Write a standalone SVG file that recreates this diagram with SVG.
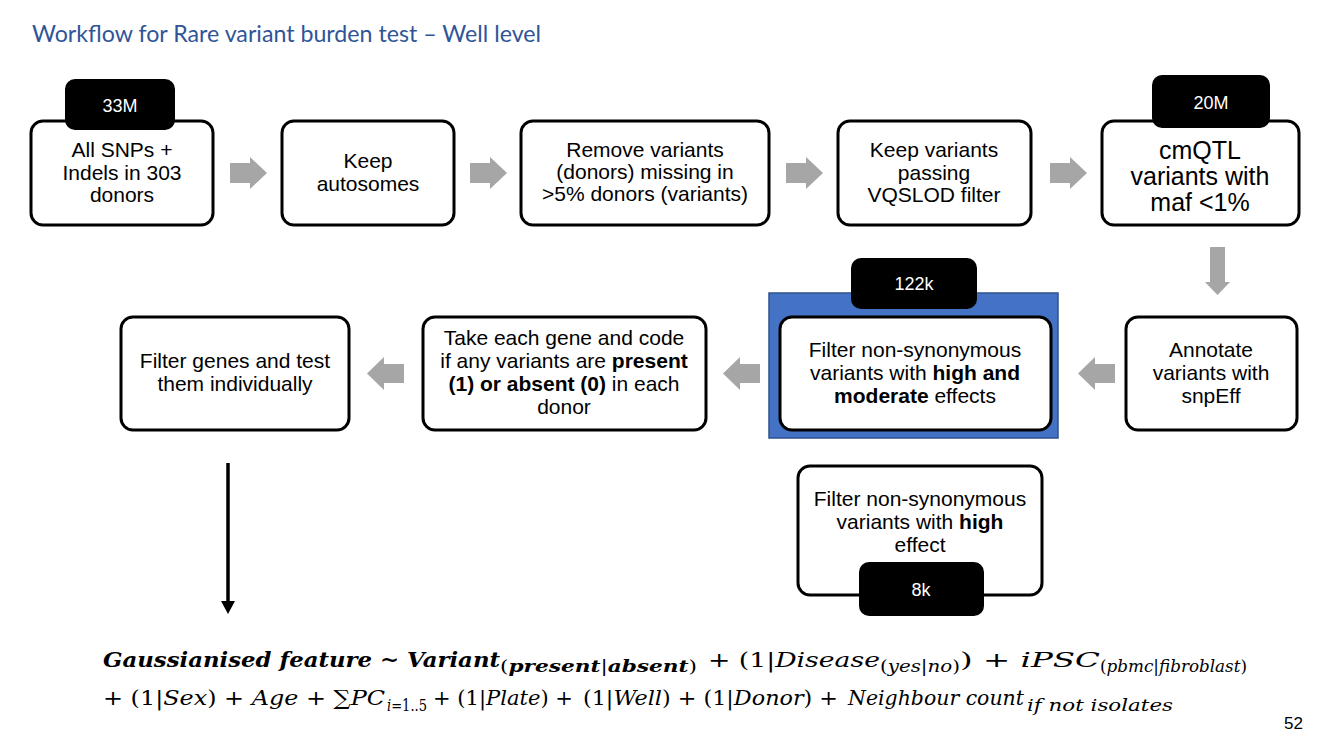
<svg xmlns="http://www.w3.org/2000/svg" width="1333" height="750" viewBox="0 0 1333 750">
  <defs>
    <style>
      .title { font-family: Lato, "Open Sans", "Liberation Sans", sans-serif; font-size: 23px; fill: #2F5597; }
      .box { fill: #FFFFFF; stroke: #000000; stroke-width: 3; }
      .tab { fill: #000000; }
      .tabtxt { font-family: "Liberation Sans", Arial, sans-serif; font-size: 18px; fill: #FFFFFF; text-anchor: middle; }
      .lbl { font-family: "Liberation Sans", Arial, sans-serif; font-size: 21px; fill: #000000; text-anchor: middle; }
      .big { font-size: 25px; }
      .b { font-weight: bold; }
      .garrow { fill: #A6A6A6; }
      .math { font-family: "DejaVu Serif", "Liberation Serif", serif; font-size: 21px; fill: #000000; font-style: italic; }
      .mb { font-weight: bold; }
      .sub { font-size: 16px; }
      .up { font-style: normal; }
      .page { font-family: "Liberation Sans", Arial, sans-serif; font-size: 17px; fill: #000000; }
    </style>
  </defs>

  <rect width="1333" height="750" fill="#FFFFFF"/>

  <text class="title" x="32" y="42" textLength="509" lengthAdjust="spacingAndGlyphs">Workflow for Rare variant burden test – Well level</text>

  <!-- Row 1 -->
  <g id="node-all-snps">
    <rect class="box" x="31" y="121" width="182" height="104" rx="12"/>
    <rect class="tab" x="65" y="79" width="110" height="51" rx="10"/>
    <text class="tabtxt" x="120" y="112">33M</text>
    <text class="lbl" x="122" y="157">All SNPs +</text>
    <text class="lbl" x="122" y="180">Indels in 303</text>
    <text class="lbl" x="122" y="202">donors</text>
  </g>

  <g id="node-autosomes">
    <rect class="box" x="282" y="121" width="172" height="104" rx="12"/>
    <text class="lbl" x="368" y="168">Keep</text>
    <text class="lbl" x="368" y="191">autosomes</text>
  </g>

  <g id="node-missing">
    <rect class="box" x="521" y="121" width="248" height="104" rx="12"/>
    <text class="lbl" x="645" y="157">Remove variants</text>
    <text class="lbl" x="645" y="179">(donors) missing in</text>
    <text class="lbl" x="645" y="201">&gt;5% donors (variants)</text>
  </g>

  <g id="node-vqslod">
    <rect class="box" x="838" y="121" width="193" height="104" rx="12"/>
    <text class="lbl" x="934" y="157">Keep variants</text>
    <text class="lbl" x="934" y="180">passing</text>
    <text class="lbl" x="934" y="202">VQSLOD filter</text>
  </g>

  <g id="node-maf">
    <rect class="box" x="1102" y="121" width="197" height="104" rx="12"/>
    <rect class="tab" x="1152" y="75" width="118" height="53" rx="10"/>
    <text class="tabtxt" x="1211" y="109">20M</text>
    <text class="lbl big" x="1200" y="159">cmQTL</text>
    <text class="lbl big" x="1200" y="185">variants with</text>
    <text class="lbl big" x="1200" y="211">maf &lt;1%</text>
  </g>

  <!-- Row 2 -->
  <g id="node-annotate">
    <rect class="box" x="1126" y="317" width="171" height="113" rx="12"/>
    <text class="lbl" x="1211" y="357">Annotate</text>
    <text class="lbl" x="1211" y="380">variants with</text>
    <text class="lbl" x="1211" y="403">snpEff</text>
  </g>

  <g id="node-high-moderate">
    <rect x="769" y="293" width="289" height="145" fill="#4472C4" stroke="#2F528F" stroke-width="1.5"/>
    <rect class="tab" x="851" y="258" width="126" height="51" rx="10"/>
    <text class="tabtxt" x="914" y="290">122k</text>
    <rect class="box" x="780" y="317" width="271" height="113" rx="12"/>
    <text class="lbl" x="915" y="357">Filter non-synonymous</text>
    <text class="lbl" x="915" y="380">variants with <tspan class="b">high and</tspan></text>
    <text class="lbl" x="915" y="403"><tspan class="b">moderate</tspan> effects</text>
  </g>

  <g id="node-code-genes">
    <rect class="box" x="423" y="317" width="283" height="113" rx="12"/>
    <text class="lbl" x="564" y="345">Take each gene and code</text>
    <text class="lbl" x="564" y="368">if any variants are <tspan class="b">present</tspan></text>
    <text class="lbl" x="564" y="391"><tspan class="b">(1) or absent (0)</tspan> in each</text>
    <text class="lbl" x="564" y="414">donor</text>
  </g>

  <g id="node-test-genes">
    <rect class="box" x="121" y="317" width="228" height="113" rx="12"/>
    <text class="lbl" x="235" y="368">Filter genes and test</text>
    <text class="lbl" x="235" y="391">them individually</text>
  </g>

  <g id="node-high">
    <rect class="box" x="798" y="466" width="244" height="129" rx="12"/>
    <text class="lbl" x="920" y="506">Filter non-synonymous</text>
    <text class="lbl" x="920" y="529">variants with <tspan class="b">high</tspan></text>
    <text class="lbl" x="920" y="552">effect</text>
    <rect class="tab" x="859" y="562" width="125" height="54" rx="10"/>
    <text class="tabtxt" x="921" y="596">8k</text>
  </g>

  <!-- Connectors -->
  <g id="connectors">
    <path class="garrow" d="M230,163 H250 V157 L267,173 L250,189 V183 H230 Z"/>
    <path class="garrow" d="M470,163 H490 V157 L507,173 L490,189 V183 H470 Z"/>
    <path class="garrow" d="M786,163 H806 V157 L823,173 L806,189 V183 H786 Z"/>
    <path class="garrow" d="M1050,163 H1070 V157 L1087,173 L1070,189 V183 H1050 Z"/>
    <path class="garrow" d="M1210,247 H1225 V282 H1230 L1217.5,295 L1205,282 H1210 Z"/>
    <path class="garrow" d="M1115,364 H1095 V357 L1078,373.5 L1095,390 V383 H1115 Z"/>
    <path class="garrow" d="M760,364 H740 V357 L723,373.5 L740,390 V383 H760 Z"/>
    <path class="garrow" d="M404,364 H384 V357 L367,373.5 L384,390 V383 H404 Z"/>
    <line x1="228" y1="463" x2="228" y2="603" stroke="#000000" stroke-width="3.5"/>
    <path d="M221,601 L235,601 L228,614 Z" fill="#000000"/>
  </g>

  <!-- Model formula -->
  <g id="formula">
    <text class="math mb" x="103" y="667" textLength="397" lengthAdjust="spacingAndGlyphs">Gaussianised feature ~ Variant</text>
    <text class="math sub" x="500" y="672" textLength="197" lengthAdjust="spacingAndGlyphs"><tspan class="up">(</tspan><tspan class="mb">present</tspan><tspan class="up">|</tspan><tspan class="mb">absent</tspan><tspan class="up">)</tspan></text>
    <text class="math" x="708" y="667" textLength="172" lengthAdjust="spacingAndGlyphs"><tspan class="up">+ (1|</tspan>Disease</text>
    <text class="math sub" x="880" y="672" textLength="80" lengthAdjust="spacingAndGlyphs"><tspan class="up">(</tspan>yes<tspan class="up">|</tspan>no<tspan class="up">)</tspan></text>
    <text class="math" x="960" y="667" textLength="140" lengthAdjust="spacingAndGlyphs"><tspan class="up">) + </tspan>iPSC</text>
    <text class="math sub" x="1100" y="672" textLength="147" lengthAdjust="spacingAndGlyphs"><tspan class="up">(</tspan>pbmc<tspan class="up">|</tspan>fibroblast<tspan class="up">)</tspan></text>

    <text class="math" x="103" y="705" textLength="282" lengthAdjust="spacingAndGlyphs"><tspan class="up">+ (1|</tspan>Sex<tspan class="up">) + </tspan>Age<tspan class="up"> + ∑</tspan>PC</text>
    <text class="math sub" x="387" y="711" textLength="40" lengthAdjust="spacingAndGlyphs">i<tspan class="up">=1..5</tspan></text>
    <text class="math" x="433" y="705" textLength="140" lengthAdjust="spacingAndGlyphs"><tspan class="up">+ (1|</tspan>Plate<tspan class="up">) +</tspan></text>
    <text class="math" x="583" y="705" textLength="255" lengthAdjust="spacingAndGlyphs"><tspan class="up">(1|</tspan>Well<tspan class="up">) + (1|</tspan>Donor<tspan class="up">) +</tspan></text>
    <text class="math" x="848" y="705" textLength="176" lengthAdjust="spacingAndGlyphs">Neighbour count</text>
    <text class="math sub" x="1027" y="711" textLength="146" lengthAdjust="spacingAndGlyphs">if not isolates</text>
  </g>

  <text class="page" x="1284" y="729">52</text>
</svg>
